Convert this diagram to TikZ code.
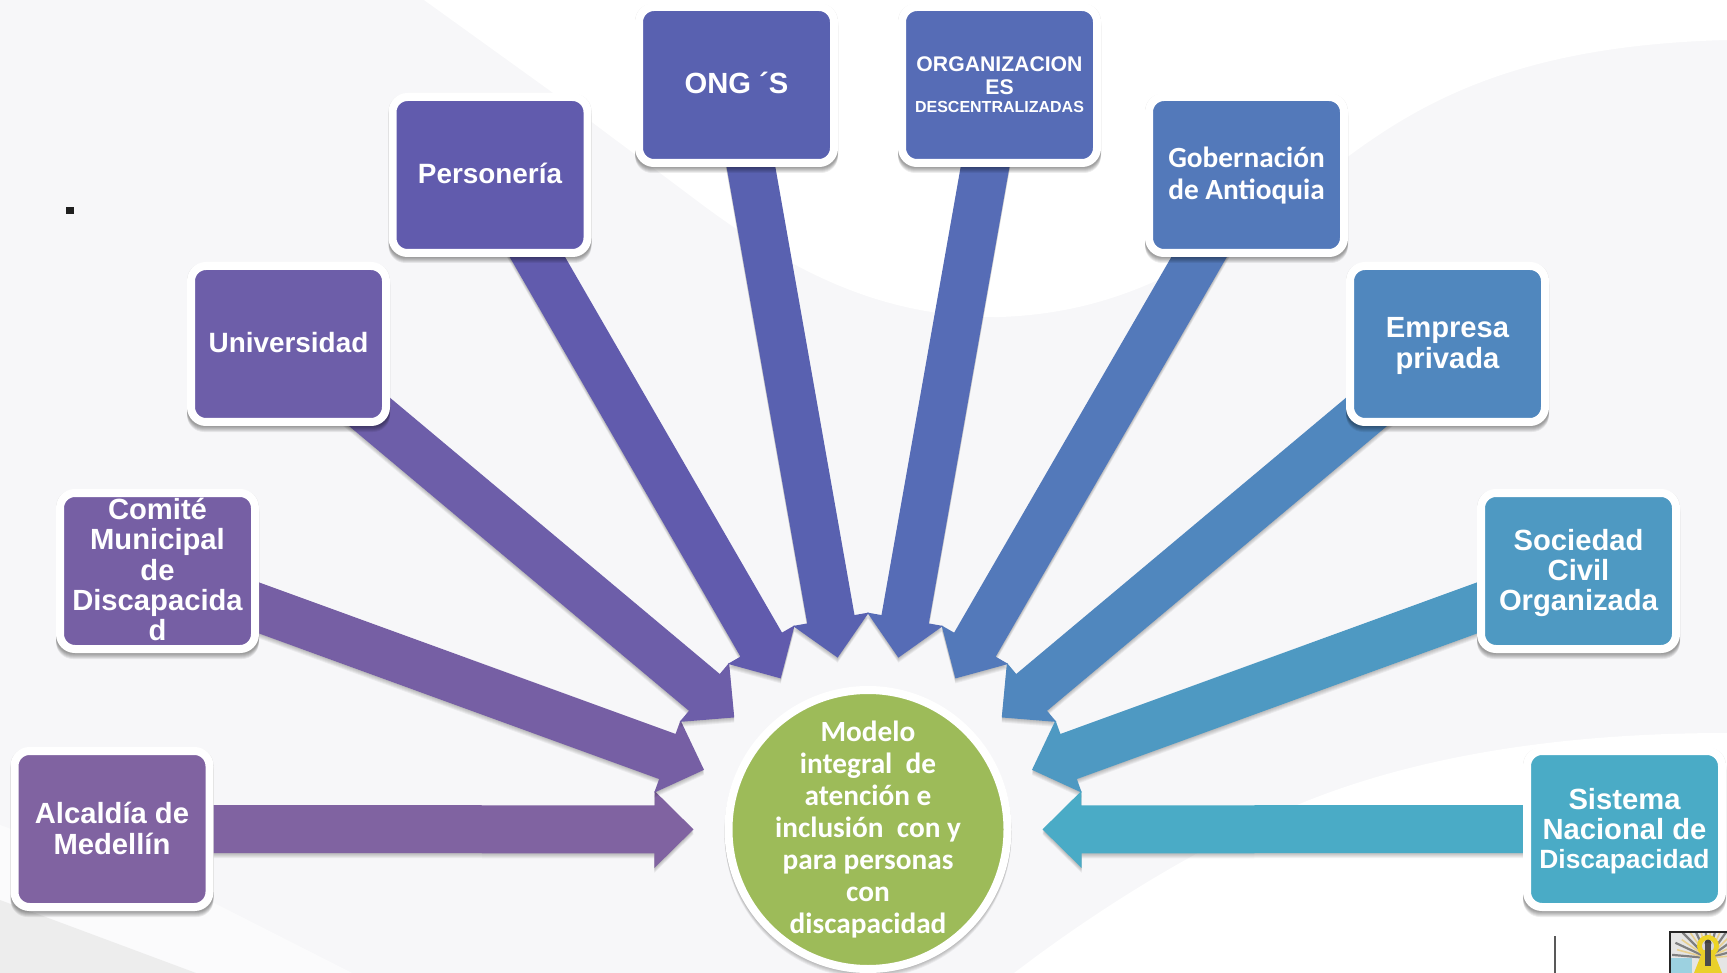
\documentclass[tikz,border=0pt]{standalone}
\usepackage{fontspec}
\setmainfont{Liberation Sans}
\newfontfamily\hubfont{Carlito}
\usetikzlibrary{calc}
\pgfdeclarelayer{arrowlayer}
\pgfdeclarelayer{shadowlayer}
\pgfsetlayers{arrowlayer,shadowlayer,main}
\definecolor{cAlc}{HTML}{8063A1}
\definecolor{cCom}{HTML}{765FA4}
\definecolor{cUni}{HTML}{6D5EA9}
\definecolor{cPer}{HTML}{615BAD}
\definecolor{cOng}{HTML}{5961B0}
\definecolor{cOrg}{HTML}{566CB6}
\definecolor{cGob}{HTML}{5379BA}
\definecolor{cEmp}{HTML}{5087BE}
\definecolor{cSoc}{HTML}{4E99C2}
\definecolor{cSis}{HTML}{4AABC6}
\definecolor{cHub}{HTML}{9DBB59}
\definecolor{bgbase}{HTML}{F7F7F9}
\tikzset{
  orgbox/.style={rectangle,rounded corners=15pt,draw=white,line width=8pt,fill=#1,
    minimum width=195pt,minimum height=156pt,inner sep=0pt},
  lbl/.style={inner sep=0pt,text=white,align=center,
    font=\bfseries\fontsize{29.2}{30.4}\selectfont},
  lblsmall/.style={lbl,font=\bfseries\fontsize{27.9}{30.4}\selectfont},
  hubcircle/.style={circle,draw=white,line width=8pt,fill=cHub,minimum size=279pt,inner sep=0pt},
  hubtext/.style={inner sep=0pt,text=white,align=center,
    font=\hubfont\bfseries\fontsize{29.3}{32.1}\selectfont},
}
\newcommand{\spoke}[2]{%
  \coordinate (tp) at ($(hub)!174.5pt!(#1)$);
  \coordinate (hb) at ($(tp)!39pt!(#1)$);
  \coordinate (a1) at ($(#1)!24pt!90:(hub)$);
  \coordinate (a2) at ($(hb)!24pt!-90:(#1)$);
  \coordinate (a3) at ($(hb)!38.5pt!-90:(#1)$);
  \coordinate (b1) at ($(#1)!24pt!-90:(hub)$);
  \coordinate (b2) at ($(hb)!24pt!90:(#1)$);
  \coordinate (b3) at ($(hb)!38.5pt!90:(#1)$);
  \foreach \s in {5,4,3,2,1}{
    \fill[black,opacity=.05,transform canvas={yshift=-\s pt}]
      (a1)--(a2)--(a3)--(tp)--(b3)--(b2)--(b1)--cycle;
  }
  \fill[#2] (a1)--(a2)--(a3)--(tp)--(b3)--(b2)--(b1)--cycle;
}
\newcommand{\boxshade}[1]{%
  \foreach \s in {6,5,4,3,2,1}{
    \fill[black,opacity=.07,rounded corners=17pt,transform canvas={yshift=-\s pt}]
      (#1.south west) rectangle (#1.north east);
  }
}
\begin{document}
\begin{tikzpicture}[x=1pt,y=-1pt]
\useasboundingbox (0,0) rectangle (1727,973);
% the boxes
\node[orgbox=cAlc,label={[lbl,yshift=.5pt]center:{Alcaldía de\\Medellín}}] (alc) at (112,829) {};
\node[orgbox=cCom,label={[lbl,yshift=1.5pt]center:{Comité\\Municipal\\de\\Discapacida\\d}}] (com) at (157.5,571) {};
\node[orgbox=cUni,label={[lblsmall,yshift=1pt]center:{Universidad}}] (uni) at (288.5,344) {};
\node[orgbox=cPer,label={[lblsmall,yshift=2pt]center:{Personería}}] (per) at (490,175) {};
\node[orgbox=cOng,label={[lbl,yshift=2pt]center:{ONG ´S}}] (ong) at (736.5,85) {};
\node[orgbox=cOrg,label={[lbl]center:{\fontsize{21.2}{22}\selectfont ORGANIZACION\\[-8pt]\fontsize{21.2}{22}\selectfont ES\\[-11.5pt]\fontsize{16}{19}\selectfont DESCENTRALIZADAS}}] (org) at (999.5,85) {};
\node[orgbox=cGob,label={[hubtext,yshift=-.7pt]center:{Gobernación\\de Antioquia}}] (gob) at (1246.5,175) {};
\node[orgbox=cEmp,label={[lbl,yshift=-2pt]center:{Empresa\\privada}}] (emp) at (1447.5,344) {};
\node[orgbox=cSoc,label={[lbl,yshift=-2pt]center:{Sociedad\\Civil\\Organizada}}] (soc) at (1578.5,571) {};
\node[orgbox=cSis,label={[lbl,yshift=-2pt]center:{Sistema\\Nacional de\\[-2pt]\fontsize{26.4}{28}\selectfont Discapacidad}}] (sis) at (1624.5,829) {};
\node[hubcircle] (hub) at (868,829.5) {};
\node[hubtext] (hubt) at (hub.center) {Modelo\\integral\ \ de\\atención e\\inclusión\ \ con y\\para personas\\con\\discapacidad};
% page background and its pale shapes
\begin{pgfonlayer}{arrowlayer}
  \fill[bgbase] (0,0) rectangle (1727,973);
  \fill[white] (424,0) -- (549,90) -- (700,203) .. controls (790,270) and (880,318) .. (1000,317)
     .. controls (1150,312) and (1240,235) .. (1357,150)
     .. controls (1440,90) and (1540,45) .. (1727,40) -- (1727,0) -- cycle;
  \fill[white] (1014,973) .. controls (1090,915) and (1190,850) .. (1297,805)
     .. controls (1400,762) and (1540,733) .. (1727,733) -- (1727,973) -- cycle;
  \fill[white,opacity=.6] (0,825) -- (214,903) -- (352,973) -- (0,973) -- cycle;
  \fill[black!7] (0,900) -- (196,973) -- (0,973) -- cycle;
  % connectors
  \spoke{alc}{cAlc}
  \spoke{com}{cCom}
  \spoke{uni}{cUni}
  \spoke{per}{cPer}
  \spoke{ong}{cOng}
  \spoke{org}{cOrg}
  \spoke{gob}{cGob}
  \spoke{emp}{cEmp}
  \spoke{soc}{cSoc}
  \spoke{sis}{cSis}
\end{pgfonlayer}
\begin{pgfonlayer}{shadowlayer}
  \foreach \b in {alc,com,uni,per,ong,org,gob,emp,soc,sis}{\boxshade{\b}}
  \foreach \s in {5,4,3,2,1}{
    \fill[black,opacity=.05,transform canvas={yshift=-\s pt}] (hub.center) circle (143.5pt);
  }
\end{pgfonlayer}
% small square mark
\node[rectangle,fill=black!88,minimum width=8pt,minimum height=7pt,inner sep=0pt] (mark) at (70,210.5) {};
% thin rule and crest at the bottom right
\node[rectangle,fill=black!65,minimum width=1.6pt,minimum height=38pt,inner sep=0pt,anchor=north] (rule) at (1555,936) {};
\begin{scope}
  \clip (1669,931) rectangle (1727,973);
  \fill[black!10] (1669,931) rectangle (1727,973);
  \fill[cSis!55] (1669,958) rectangle (1692,973);
  \foreach \a in {-175,-155,...,-5}{
    \draw[black!50,line width=2.2pt] (1708,958) -- +(\a:36);
    \draw[yellow!30!brown!55,line width=1.6pt] (1708,958) -- +(\a+10:32);
  }
  \fill[yellow!70!brown] (1708,946) circle (11pt);
  \fill[black!15] (1708,946) circle (6pt);
  \fill[black!75] (1708,943) circle (3.5pt);
  \fill[yellow!65!brown] (1694,973) -- (1703,950) -- (1713,950) -- (1722,973) -- cycle;
  \fill[black!70] (1705,943) rectangle (1711,966);
  \draw[black!85,line width=3pt] (1669,931) rectangle (1730,976);
\end{scope}
\end{tikzpicture}
\end{document}
